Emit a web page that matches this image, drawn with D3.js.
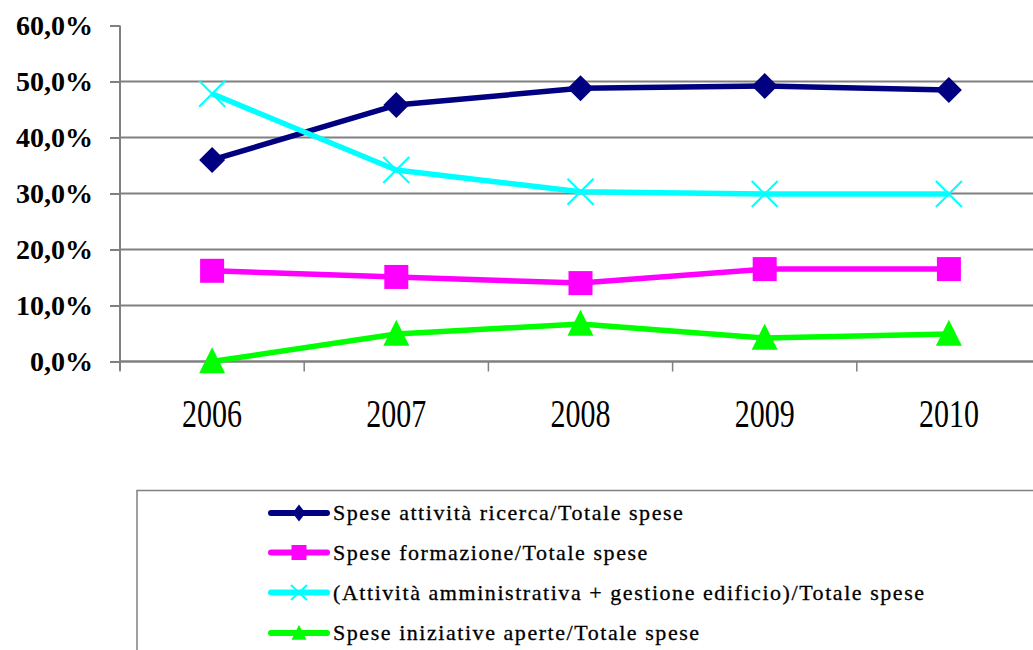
<!DOCTYPE html>
<html><head><meta charset="utf-8">
<script src="https://cdn.jsdelivr.net/npm/d3@7"></script>
<style>body{margin:0;background:#fff;}svg{display:block;}
text{font-family:"Liberation Serif","DejaVu Serif",Times,serif;}</style>
</head><body>
<svg id="c" width="1033" height="650"></svg>
<script>
const years = ["2006","2007","2008","2009","2010"];
const ricerca = [36.0, 45.8, 48.8, 49.2, 48.5];
const formazione = [16.2, 15.1, 14.0, 16.5, 16.5];
const amministrativa = [47.8, 34.2, 30.3, 29.9, 29.9];
const iniziative = [0.0, 4.9, 6.7, 4.2, 4.9];
const yTicks = [0,10,20,30,40,50,60];
const seriesNames = ["Spese attività ricerca/Totale spese","Spese formazione/Totale spese","(Attività amministrativa + gestione edificio)/Totale spese","Spese iniziative aperte/Totale spese"];

const series = [
  {name: seriesNames[0], values: ricerca, color: "#000080", marker: "diamond"},
  {name: seriesNames[1], values: formazione, color: "#FF00FF", marker: "square"},
  {name: seriesNames[2], values: amministrativa, color: "#00FFFF", marker: "x"},
  {name: seriesNames[3], values: iniziative, color: "#00FF00", marker: "triangle"}
];

const FONT = "'Liberation Serif', 'DejaVu Serif', Times, serif";
const svg = d3.select("#c");
const pLeft = 120, pRight = 1041, pTop = 25.5, pBottom = 361.5;
const x = d3.scaleBand().domain(years).range([pLeft, pRight]);
const y = d3.scaleLinear().domain([0,60]).range([pBottom, pTop]);
const fmt = v => d3.format(".1f")(v).replace(".", ",") + "%";

// grid
svg.append("g").selectAll("line").data(yTicks.filter(t => t>0 && t<60)).join("line")
  .attr("x1", pLeft).attr("x2", pRight).attr("y1", d=>y(d)).attr("y2", d=>y(d))
  .attr("stroke", "#808080").attr("stroke-width", 2);

// y axis
const ya = svg.append("g").attr("transform", `translate(${pLeft},0)`)
  .call(d3.axisLeft(y).tickValues(yTicks).tickSize(10).tickFormat(fmt));
ya.attr("font-family", FONT);
ya.select(".domain").attr("stroke", "#808080").attr("stroke-width", 2).attr("d", `M0,${pTop}V${pBottom+9}`);
ya.selectAll(".tick line").attr("stroke", "#808080").attr("stroke-width", 2);
ya.selectAll(".tick text").attr("x", -27).attr("font-family", FONT).attr("font-weight", "bold")
  .attr("font-size", 28).attr("fill", "#000").attr("dy", "0.33em");

// x axis
const xa = svg.append("g").attr("transform", `translate(0,${pBottom})`)
  .call(d3.axisBottom(x).tickSize(0).tickFormat(d=>d));
xa.attr("font-family", FONT);
xa.select(".domain").attr("stroke", "#808080").attr("stroke-width", 2.5).attr("d", `M${pLeft},0H${pRight}`);
const bounds = years.map(d => x(d)).concat([pRight]);
xa.selectAll(".bt").data(bounds).join("line").attr("class","bt")
  .attr("x1", d=>d).attr("x2", d=>d).attr("y1", 0).attr("y2", 10)
  .attr("stroke", "#808080").attr("stroke-width", 1.5);
xa.selectAll(".tick text").attr("font-family", FONT).attr("font-size", 30)
  .attr("fill", "#000").attr("y", 0).attr("dy", 0)
  .attr("transform", "translate(0,65.5) scale(1,1.3)");

// lines
const line = d3.line().x((d,i)=>x(years[i]) + x.bandwidth()/2).y(d=>y(d));
const lineG = svg.append("g");
function marker(g, type, color, w, h) {
  h = h || w;
  if (type === "diamond") {
    g.append("path").attr("d", `M0,${-h/2}L${w/2},0L0,${h/2}L${-w/2},0Z`).attr("fill", color);
  } else if (type === "square") {
    g.append("rect").attr("x", -w/2).attr("y", -h/2).attr("width", w).attr("height", h).attr("fill", color);
  } else if (type === "x") {
    g.append("path").attr("d", `M${-w/2},${-h/2}L${w/2},${h/2}M${-w/2},${h/2}L${w/2},${-h/2}`).attr("stroke", color).attr("stroke-width", 2).attr("fill","none");
  } else if (type === "triangle") {
    g.append("path").attr("d", `M0,${-h*0.55}L${w/2},${h*0.45}L${-w/2},${h*0.45}Z`).attr("fill", color);
  }
}
series.forEach(s => {
  lineG.append("path").datum(s.values).attr("d", line).attr("fill","none")
    .attr("stroke", s.color).attr("stroke-width", 5.5).attr("stroke-linejoin","round");
});
series.forEach(s => {
  s.values.forEach((v,i) => {
    const g = lineG.append("g").attr("transform", `translate(${x(years[i]) + x.bandwidth()/2},${y(v)})`);
    const sz = s.marker === "square" ? 24 : 26;
    marker(g, s.marker, s.color, sz);
  });
});

// legend
const lg = svg.append("g");
lg.append("rect").attr("x", 137).attr("y", 490.5).attr("width", 1000).attr("height", 300)
  .attr("fill", "#fff").attr("stroke", "#808080").attr("stroke-width", 1.5);
const rowY = [513, 552.5, 592.5, 633];
series.forEach((s, i) => {
  const g = lg.append("g").attr("transform", `translate(0,${rowY[i]})`);
  g.append("line").attr("x1", 271).attr("x2", 327).attr("y1", 0).attr("y2", 0)
    .attr("stroke", s.color).attr("stroke-width", 6).attr("stroke-linecap", "round");
  const m = g.append("g").attr("transform", "translate(299,0)");
  if (s.marker === "diamond") marker(m, s.marker, s.color, 13, 17);
  else marker(m, s.marker, s.color, s.marker === "x" ? 16 : 15, 15);
  g.append("text").attr("x", 333).attr("y", 0).attr("dy", "0.33em")
    .attr("font-family", FONT).attr("font-size", 22)
    .attr("letter-spacing", 1.55).attr("fill", "#000").attr("stroke", "#000").attr("stroke-width", 0.3).text(s.name);
});
</script>
</body></html>
